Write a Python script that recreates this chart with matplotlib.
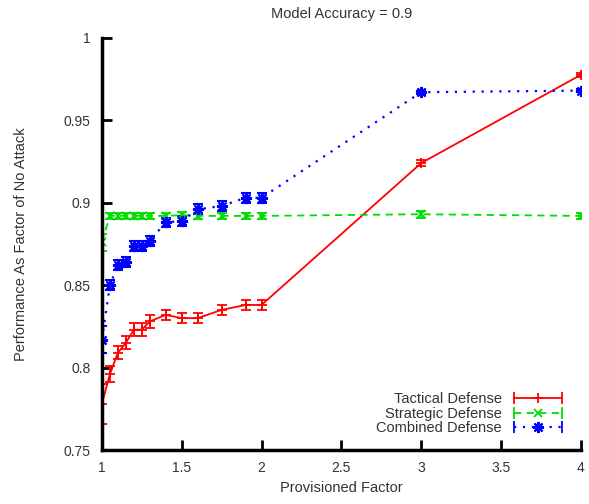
import matplotlib
matplotlib.use("Agg")
import matplotlib.pyplot as plt
from matplotlib.lines import Line2D
from matplotlib.legend_handler import HandlerLine2D, HandlerTuple

plt.rcParams['font.family'] = ['Liberation Sans', 'DejaVu Sans']

# provisioned factor values
xs = [1, 1.05, 1.1, 1.15, 1.2, 1.25, 1.3, 1.4, 1.5, 1.6, 1.75, 1.9, 2, 3, 4]

tactical = [0.778, 0.796, 0.809, 0.815, 0.823, 0.823, 0.828, 0.832, 0.830, 0.830, 0.835, 0.838, 0.838, 0.924, 0.9775]
tactical_err = [0.012, 0.005, 0.004, 0.004, 0.004, 0.004, 0.004, 0.003, 0.003, 0.003, 0.003, 0.003, 0.003, 0.002, 0.001]

strategic = [0.876, 0.892, 0.892, 0.892, 0.892, 0.892, 0.892, 0.892, 0.8925, 0.892, 0.892, 0.892, 0.892, 0.893, 0.892]
strategic_err = [0.005, 0.002, 0.002, 0.002, 0.002, 0.002, 0.002, 0.002, 0.002, 0.002, 0.002, 0.002, 0.002, 0.002, 0.002]

combined = [0.817, 0.850, 0.862, 0.864, 0.874, 0.874, 0.877, 0.888, 0.889, 0.896, 0.898, 0.903, 0.903, 0.967, 0.968]
combined_err = [0.008, 0.003, 0.003, 0.003, 0.003, 0.003, 0.003, 0.003, 0.003, 0.003, 0.003, 0.003, 0.003, 0.001, 0.001]

names = ['Tactical Defense', 'Strategic Defense', 'Combined Defense']
colors = ['#ff0000', '#00dd00', '#0000ff']

xticks = [1, 1.5, 2, 2.5, 3, 3.5, 4]
xticklabels = ['1', '1.5', '2', '2.5', '3', '3.5', '4']
yticks = [0.75, 0.8, 0.85, 0.9, 0.95, 1.0]
yticklabels = ['0.75', '0.8', '0.85', '0.9', '0.95', '1']

styles = [
    dict(ls='-', lw=1.3, marker='+', ms=7, mew=1.3),
    dict(ls=(0, (4, 3)), lw=1.3, marker='x', ms=6, mew=1.3),
    dict(ls=(0, (1, 3)), lw=1.6, marker=(8, 2, 0), ms=8, mew=1.5),
]

fig = plt.figure(figsize=(5.89, 5.04), dpi=100)
ax = fig.add_axes([0.173, 0.107, 0.813, 0.818])

series = [(tactical, tactical_err), (strategic, strategic_err), (combined, combined_err)]
handles = []
hmap = {}
for (ys, err), name, c, st in zip(series, names, colors, styles):
    ax.errorbar(xs, ys, yerr=err, color=c, capsize=3.5, elinewidth=1.3, capthick=1.3, **st)
    # gnuplot style key sample: horizontal line with end caps and a centre marker
    caps = Line2D([], [], color=c, ls=st['ls'], lw=st['lw'], marker='|', ms=9, mew=1.3)
    mid = Line2D([], [], color=c, ls='none', marker=st['marker'], ms=st['ms'], mew=st['mew'])
    hmap[caps] = HandlerLine2D(numpoints=2)
    hmap[mid] = HandlerLine2D(numpoints=1)
    handles.append((caps, mid))
hmap[tuple] = HandlerTuple(ndivide=1)

ax.set_xlim(1, 4)
ax.set_ylim(0.75, 1.0)
ax.set_xticks(xticks)
ax.set_xticklabels(xticklabels)
ax.set_yticks(yticks)
ax.set_yticklabels(yticklabels)

for s in ['top', 'right']:
    ax.spines[s].set_visible(False)
for s in ['left', 'bottom']:
    ax.spines[s].set_linewidth(2.5)
ax.tick_params(direction='in', length=7, width=2, labelsize=10, colors='black',
               labelcolor='#333333', pad=8)

ax.set_xlabel('Provisioned Factor', fontsize=10.5, color='#333333', labelpad=4)
ax.set_ylabel('Performance As Factor of No Attack', fontsize=10.5, color='#333333', labelpad=26)
ax.set_title('Model Accuracy = 0.9', fontsize=10.5, color='#333333', pad=14)

ax.legend(handles, names, handler_map=hmap, loc='lower right', frameon=False,
          markerfirst=False, fontsize=10.5, handlelength=3.9, handletextpad=0.5,
          labelspacing=0.05, borderaxespad=0.6, bbox_to_anchor=(1.0, 0.0),
          labelcolor='#333333')

fig.savefig('out.png', dpi=100)
